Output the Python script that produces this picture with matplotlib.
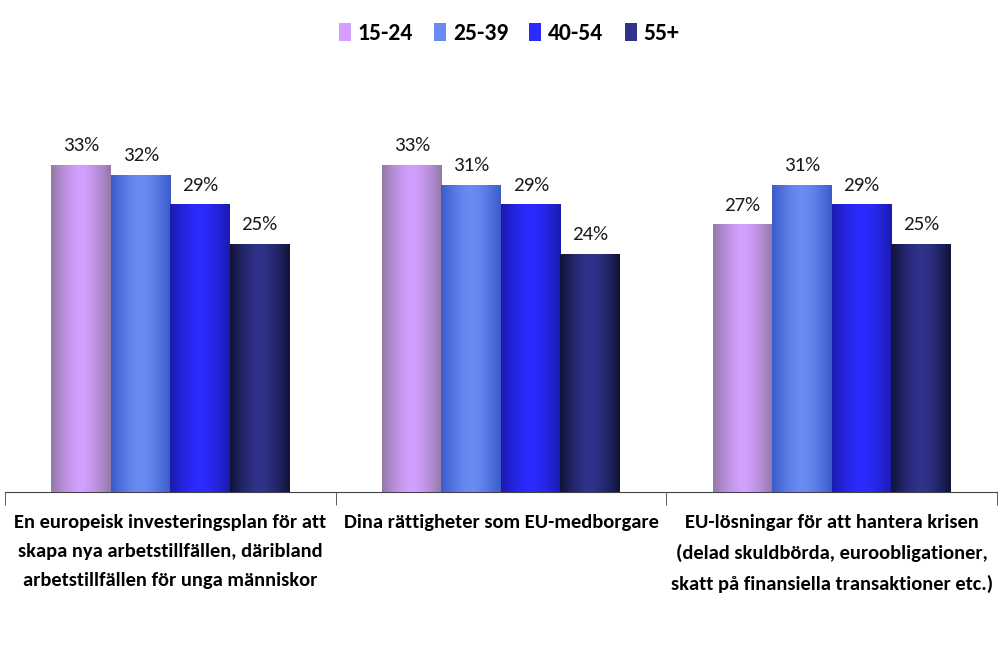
import numpy as np
import matplotlib
matplotlib.use("Agg")
import matplotlib.pyplot as plt
from matplotlib.colors import LinearSegmentedColormap
from matplotlib.patches import Patch

categories = ["En europeisk investeringsplan för att\nskapa nya arbetstillfällen, däribland\narbetstillfällen för unga människor",
              "Dina rättigheter som EU-medborgare",
              "EU-lösningar för att hantera krisen\n(delad skuldbörda, euroobligationer,\nskatt på finansiella transaktioner etc.)"]
groups = ["15-24", "25-39", "40-54", "55+"]
values = {
    "15-24": [33, 33, 27],
    "25-39": [32, 31, 31],
    "40-54": [29, 29, 29],
    "55+": [25, 24, 25],
}
center_colors = ["#D3A0FF", "#6A8CF2", "#2B2BFF", "#30338C"]
edge_colors = ["#9378A8", "#3B5BCB", "#1B1BB0", "#101338"]

plt.rcParams['font.family'] = ['Carlito', 'DejaVu Sans']

fig = plt.figure(figsize=(10.08, 6.61), dpi=100)
ax = fig.add_axes([0.005, 0.256, 0.984, 0.674])

x = np.arange(len(categories))
width = 0.18
offsets = (np.arange(len(groups)) - 1.5) * width

# horizontal shading: dark edges, light middle
grad = np.abs(np.linspace(-1, 1, 64))[None, :]
grad = 1 - grad ** 1.5

for i, g in enumerate(groups):
    cmap = LinearSegmentedColormap.from_list(g, [edge_colors[i], center_colors[i]])
    bars = ax.bar(x + offsets[i], values[g], width, color=center_colors[i], zorder=2)
    for b, v in zip(bars, values[g]):
        bx, by, bw, bh = b.get_x(), b.get_y(), b.get_width(), b.get_height()
        ax.imshow(grad, cmap=cmap, aspect='auto', extent=[bx, bx + bw, by, by + bh],
                  zorder=3, interpolation='bicubic')
        ax.text(bx + bw / 2, bh + 1.1, f"{v}%", ha='center', va='bottom',
                fontsize=15, color='#1a1a1a')

ax.set_xlim(-0.5, len(categories) - 0.5)
ax.set_ylim(0, 45)
for s in ['top', 'right', 'left']:
    ax.spines[s].set_visible(False)
ax.spines['bottom'].set_color('#444444')
ax.set_yticks([])
ax.set_xticks(x)
ax.set_xticklabels(categories, fontsize=14.8, fontweight='bold', linespacing=1.85)
ax.tick_params(axis='x', which='major', length=0, pad=16)
ax.set_xticks(np.arange(len(categories) + 1) - 0.5, minor=True)
ax.tick_params(axis='x', which='minor', length=9, color='#444444', direction='out')

handles = [Patch(facecolor=center_colors[i], edgecolor='none', label=g) for i, g in enumerate(groups)]
fig.legend(handles=handles, loc='upper center', bbox_to_anchor=(0.505, 0.997), ncol=4, frameon=False,
           prop={'size': 17, 'weight': 'bold'}, handlelength=0.5, handleheight=0.75,
           handletextpad=0.3, columnspacing=0.9)

fig.savefig("out.png", dpi=100)
